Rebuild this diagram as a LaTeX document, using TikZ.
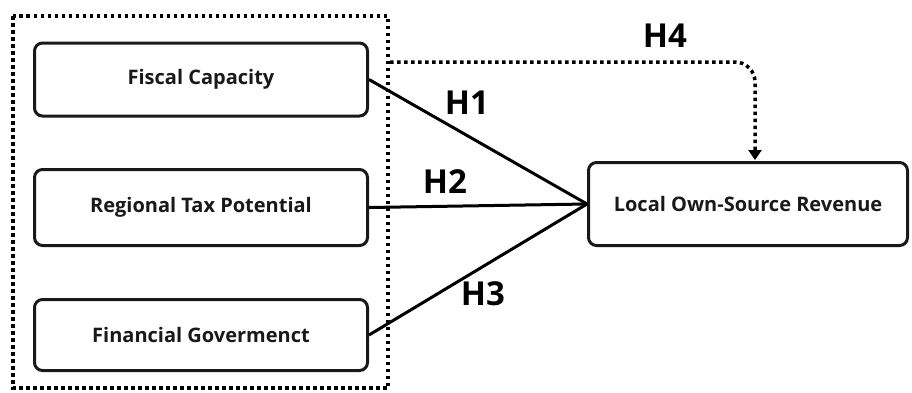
\documentclass[tikz,border=0pt]{standalone}
\usepackage{fontspec}
\setmainfont{Open Sans}
\usetikzlibrary{arrows.meta}
\begin{document}
\begin{tikzpicture}[x=1pt,y=-1pt,
  varbox/.style={draw=black!90, line width=3pt, rounded corners=8pt, fill=white,
    font=\fontsize{20}{24}\selectfont\bfseries, text=black!90},
  link/.style={draw=black, line width=3pt},
  dotline/.style={draw=black, line width=3.5pt, dash pattern=on 3.5pt off 3.5pt},
  hyp/.style={font=\fontsize{33}{38}\selectfont\bfseries, text=black}]
\useasboundingbox (0,0) rectangle (912,392);
\draw[dotline] (13,16) rectangle (388,388);
\node[varbox, minimum width=333pt, minimum height=73pt] (fc) at (201,79.5) {Fiscal Capacity};
\node[varbox, minimum width=333pt, minimum height=76pt] (rt) at (201,207.5) {Regional Tax Potential};
\node[varbox, minimum width=333pt, minimum height=71pt] (fg) at (201,335) {Financial Govermenct};
\node[varbox, minimum width=319pt, minimum height=83pt] (lr) at (748,204) {Local Own-Source Revenue};
\draw[link] (fc.east) -- (lr.west);
\draw[link] (rt.east) -- (lr.west);
\draw[link] (fg.east) -- (lr.west);
\coordinate (h4s) at (390,62);
\coordinate (h4e) at (755,160);
\draw[dotline, rounded corners=20pt, -{Triangle[width=13pt,length=10pt]}] (h4s) -| (h4e);
\node[hyp] (h1) at (467,103) {H1};
\node[hyp] (h2) at (445,182) {H2};
\node[hyp] (h3) at (483,294) {H3};
\node[hyp] (h4) at (665,36) {H4};
\end{tikzpicture}
\end{document}
